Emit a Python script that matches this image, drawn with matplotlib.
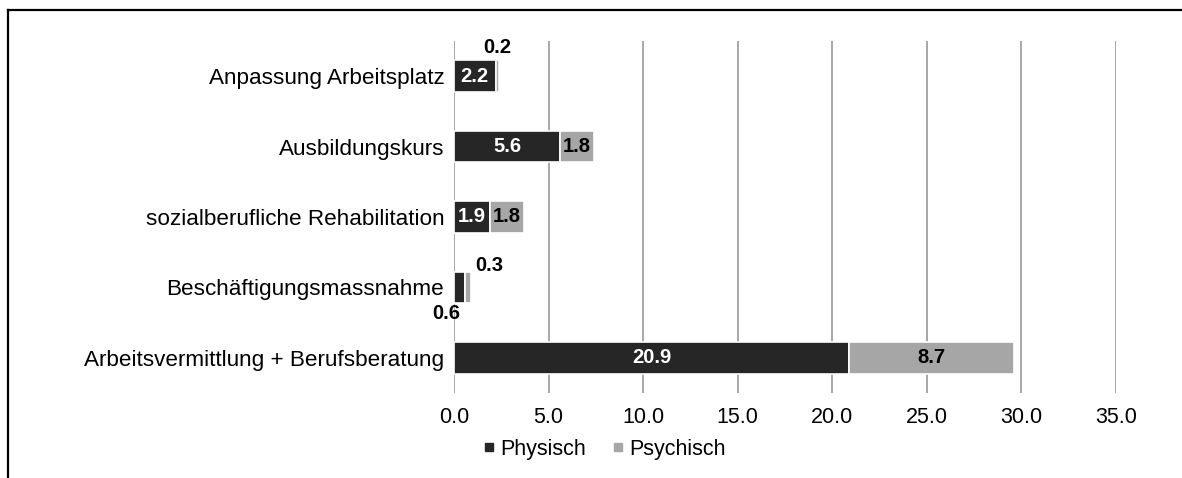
import matplotlib
matplotlib.use("Agg")
import matplotlib.pyplot as plt
from matplotlib.lines import Line2D
import numpy as np

plt.rcParams['font.family'] = ['Liberation Sans', 'DejaVu Sans']

categories = ["Anpassung Arbeitsplatz", "Ausbildungskurs",
              "sozialberufliche Rehabilitation", "Beschäftigungsmassnahme",
              "Arbeitsvermittlung + Berufsberatung"]
physisch = [2.2, 5.6, 1.9, 0.6, 20.9]
psychisch = [0.2, 1.8, 1.8, 0.3, 8.7]
series_names = ["Physisch", "Psychisch"]
xticks = [0, 5, 10, 15, 20, 25, 30, 35]

c_dark = "#262626"
c_light = "#a6a6a6"
grid_c = "#a0a0a0"

W, H = 1182, 478
fig = plt.figure(figsize=(W / 100, H / 100), dpi=100)
ax = fig.add_axes([454 / W, 1 - 393 / H, (1116 - 454) / W, (393 - 41) / H])

y = np.arange(len(categories))
bh = 0.45
b1 = ax.barh(y, physisch, height=bh, color=c_dark, edgecolor="white", linewidth=1.2, zorder=3)
b2 = ax.barh(y, psychisch, left=physisch, height=bh, color=c_light, edgecolor="white", linewidth=1.2, zorder=3)

ax.set_xlim(0, 35)
ax.set_ylim(len(categories) - 0.5, -0.5)
ax.set_xticks(xticks)
ax.set_xticklabels([f"{v:.1f}" for v in xticks], fontsize=15.5)
ax.set_yticks(y)
ax.set_yticklabels(categories, fontsize=16.2)
ax.tick_params(axis='both', length=0)
ax.tick_params(axis='x', pad=10)
ax.tick_params(axis='y', pad=7)
for s in ax.spines.values():
    s.set_visible(False)
ax.grid(axis='x', color=grid_c, linewidth=1.3, zorder=0)
ax.set_axisbelow(True)

# data labels
small_offsets = {
    (0, 1): (0, 29),
    (3, 1): (21, 22),
    (3, 0): (-13, -26),
}
for i in range(len(categories)):
    for k, (vals, lefts, col) in enumerate([(physisch, [0] * len(physisch), "white"),
                                            (psychisch, physisch, "black")]):
        v = vals[i]
        xc = lefts[i] + v / 2
        if (i, k) in small_offsets:
            dx, dy = small_offsets[(i, k)]
            ax.annotate(f"{v:.1f}", (xc, y[i]), xytext=(dx, dy), textcoords='offset pixels',
                        ha='center', va='center', fontsize=14.5, fontweight='bold', color='black',
                        zorder=5, annotation_clip=False)
        else:
            ax.text(xc, y[i], f"{v:.1f}", ha='center', va='center', fontsize=14.5,
                    fontweight='bold', color=col, zorder=5)

handles = [Line2D([], [], marker='s', linestyle='none', markersize=6, color=c_dark),
           Line2D([], [], marker='s', linestyle='none', markersize=6, color=c_light)]
fig.legend(handles, series_names, loc='center', bbox_to_anchor=(604 / W, 1 - 449 / H),
           ncol=2, frameon=False, fontsize=15.5, handlelength=0.6, handletextpad=0.2,
           columnspacing=1.2)

# frame lines
fig.add_artist(Line2D([8 / W, 1], [1 - 10 / H, 1 - 10 / H], color='black', linewidth=1.6,
                      transform=fig.transFigure))
fig.add_artist(Line2D([8 / W, 8 / W], [1 - 10 / H, 0], color='black', linewidth=1.6,
                      transform=fig.transFigure))

fig.savefig("out.png", dpi=100)
